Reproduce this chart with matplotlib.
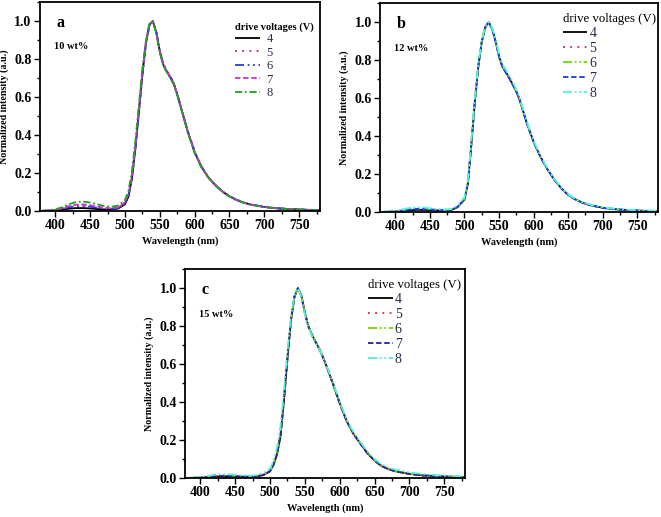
import matplotlib
matplotlib.use('Agg')
import matplotlib.pyplot as plt
from matplotlib.ticker import MultipleLocator, FormatStrFormatter

plt.rcParams['font.family'] = ['Liberation Serif', 'DejaVu Serif']

# wavelength grid (nm)
wl = [380, 400, 410, 420, 430, 440, 450, 460, 470, 480, 490, 500, 505, 510, 515,
      520, 525, 530, 535, 540, 545, 550, 555, 560, 565, 570, 575, 580, 590, 600,
      610, 620, 630, 640, 650, 660, 670, 680, 700, 720, 740, 760, 780]

voltages = ['4', '5', '6', '7', '8']

# panel a, 10 wt%
a_v4 = [0.000, 0.002, 0.006, 0.012, 0.015, 0.015, 0.013, 0.010, 0.008, 0.008, 0.012, 0.035, 0.075, 0.17, 0.33,
        0.52, 0.72, 0.88, 0.98, 1.00, 0.94, 0.84, 0.77, 0.735, 0.705, 0.67, 0.615, 0.55, 0.42, 0.31,
        0.23, 0.175, 0.135, 0.102, 0.077, 0.058, 0.044, 0.034, 0.021, 0.013, 0.009, 0.006, 0.004]
a_v5 = [0.000, 0.004, 0.012, 0.022, 0.028, 0.029, 0.025, 0.019, 0.014, 0.012, 0.016, 0.040, 0.080, 0.175, 0.335,
        0.525, 0.72, 0.88, 0.98, 1.00, 0.94, 0.845, 0.775, 0.74, 0.71, 0.675, 0.62, 0.555, 0.425, 0.315,
        0.235, 0.178, 0.137, 0.104, 0.079, 0.060, 0.046, 0.035, 0.022, 0.014, 0.010, 0.007, 0.005]
a_v6 = [0.000, 0.003, 0.010, 0.019, 0.024, 0.025, 0.022, 0.017, 0.013, 0.011, 0.015, 0.038, 0.078, 0.172, 0.33,
        0.52, 0.715, 0.875, 0.975, 1.00, 0.945, 0.845, 0.772, 0.738, 0.707, 0.672, 0.617, 0.552, 0.422, 0.312,
        0.232, 0.176, 0.136, 0.103, 0.078, 0.059, 0.045, 0.035, 0.021, 0.014, 0.009, 0.006, 0.004]
a_v7 = [0.000, 0.005, 0.014, 0.026, 0.033, 0.034, 0.030, 0.023, 0.017, 0.014, 0.019, 0.045, 0.088, 0.185, 0.345,
        0.535, 0.73, 0.885, 0.98, 1.00, 0.94, 0.84, 0.77, 0.735, 0.705, 0.67, 0.615, 0.55, 0.42, 0.31,
        0.23, 0.175, 0.135, 0.102, 0.077, 0.058, 0.044, 0.034, 0.021, 0.013, 0.009, 0.006, 0.004]
a_v8 = [0.000, 0.008, 0.020, 0.036, 0.047, 0.049, 0.044, 0.035, 0.026, 0.022, 0.028, 0.058, 0.105, 0.21, 0.37,
        0.56, 0.75, 0.895, 0.985, 1.00, 0.935, 0.835, 0.765, 0.73, 0.70, 0.665, 0.61, 0.545, 0.415, 0.305,
        0.228, 0.173, 0.133, 0.100, 0.076, 0.057, 0.043, 0.033, 0.020, 0.013, 0.009, 0.006, 0.004]

# panel b, 12 wt%
b_v4 = [0.000, 0.002, 0.005, 0.009, 0.011, 0.011, 0.010, 0.008, 0.007, 0.009, 0.025, 0.065, 0.15, 0.355, 0.58,
        0.765, 0.895, 0.972, 1.00, 0.965, 0.90, 0.82, 0.765, 0.735, 0.705, 0.67, 0.635, 0.59, 0.47, 0.37,
        0.29, 0.225, 0.17, 0.125, 0.09, 0.067, 0.05, 0.038, 0.022, 0.014, 0.009, 0.006, 0.004]
b_v5 = [0.000, 0.003, 0.007, 0.012, 0.014, 0.014, 0.012, 0.010, 0.008, 0.010, 0.026, 0.066, 0.152, 0.357, 0.582,
        0.766, 0.895, 0.972, 1.00, 0.964, 0.90, 0.82, 0.765, 0.735, 0.705, 0.67, 0.634, 0.589, 0.469, 0.369,
        0.289, 0.224, 0.17, 0.125, 0.09, 0.067, 0.05, 0.038, 0.022, 0.014, 0.009, 0.006, 0.004]
b_v6 = [0.000, 0.004, 0.009, 0.015, 0.018, 0.018, 0.015, 0.012, 0.010, 0.012, 0.028, 0.068, 0.155, 0.36, 0.585,
        0.768, 0.897, 0.973, 1.00, 0.965, 0.902, 0.823, 0.768, 0.738, 0.708, 0.673, 0.637, 0.592, 0.472, 0.372,
        0.291, 0.226, 0.171, 0.126, 0.091, 0.068, 0.051, 0.039, 0.023, 0.015, 0.010, 0.007, 0.005]
b_v7 = [0.000, 0.003, 0.008, 0.013, 0.016, 0.016, 0.014, 0.011, 0.009, 0.011, 0.027, 0.067, 0.153, 0.358, 0.583,
        0.767, 0.896, 0.973, 1.00, 0.963, 0.898, 0.818, 0.763, 0.733, 0.703, 0.668, 0.633, 0.588, 0.468, 0.368,
        0.288, 0.224, 0.169, 0.124, 0.089, 0.066, 0.049, 0.037, 0.021, 0.013, 0.009, 0.006, 0.004]
b_v8 = [0.000, 0.006, 0.013, 0.021, 0.025, 0.024, 0.020, 0.016, 0.013, 0.015, 0.033, 0.078, 0.17, 0.38, 0.60,
        0.78, 0.905, 0.976, 1.00, 0.97, 0.91, 0.832, 0.778, 0.748, 0.718, 0.683, 0.645, 0.598, 0.478, 0.376,
        0.295, 0.229, 0.174, 0.128, 0.093, 0.07, 0.053, 0.041, 0.025, 0.016, 0.011, 0.008, 0.006]

# panel c, 15 wt%
c_v4 = [0.000, 0.002, 0.004, 0.007, 0.009, 0.009, 0.008, 0.007, 0.006, 0.008, 0.015, 0.035, 0.07, 0.125, 0.22,
        0.41, 0.63, 0.83, 0.955, 1.00, 0.96, 0.87, 0.80, 0.755, 0.72, 0.685, 0.645, 0.60, 0.50, 0.395,
        0.30, 0.232, 0.18, 0.13, 0.092, 0.064, 0.047, 0.036, 0.022, 0.014, 0.010, 0.007, 0.005]
c_v5 = [0.000, 0.003, 0.006, 0.010, 0.012, 0.012, 0.011, 0.009, 0.008, 0.010, 0.017, 0.037, 0.072, 0.128, 0.225,
        0.415, 0.635, 0.832, 0.955, 1.00, 0.958, 0.868, 0.798, 0.753, 0.718, 0.683, 0.643, 0.598, 0.498, 0.393,
        0.298, 0.231, 0.179, 0.129, 0.091, 0.063, 0.046, 0.035, 0.021, 0.013, 0.009, 0.006, 0.004]
c_v6 = [0.000, 0.003, 0.006, 0.011, 0.013, 0.013, 0.012, 0.010, 0.008, 0.010, 0.017, 0.038, 0.073, 0.13, 0.228,
        0.418, 0.637, 0.833, 0.956, 1.00, 0.96, 0.872, 0.803, 0.758, 0.724, 0.689, 0.648, 0.602, 0.502, 0.397,
        0.302, 0.234, 0.181, 0.131, 0.093, 0.065, 0.048, 0.037, 0.023, 0.015, 0.011, 0.008, 0.006]
c_v7 = [0.000, 0.002, 0.005, 0.009, 0.011, 0.011, 0.010, 0.008, 0.007, 0.009, 0.016, 0.036, 0.071, 0.127, 0.222,
        0.412, 0.632, 0.831, 0.955, 1.00, 0.959, 0.869, 0.799, 0.754, 0.719, 0.684, 0.644, 0.599, 0.499, 0.394,
        0.299, 0.231, 0.179, 0.129, 0.091, 0.063, 0.046, 0.035, 0.021, 0.013, 0.009, 0.006, 0.004]
c_v8 = [0.000, 0.006, 0.011, 0.017, 0.020, 0.019, 0.017, 0.014, 0.012, 0.015, 0.025, 0.05, 0.09, 0.16, 0.27,
        0.46, 0.67, 0.85, 0.96, 1.00, 0.955, 0.865, 0.795, 0.752, 0.718, 0.684, 0.645, 0.602, 0.505, 0.402,
        0.307, 0.24, 0.188, 0.138, 0.1, 0.072, 0.055, 0.044, 0.03, 0.02, 0.015, 0.011, 0.008]

panels = [
    ('a', '10 wt%', [a_v4, a_v5, a_v6, a_v7, a_v8],
     ['black', '#c8186a', '#1f3fe0', '#cc33cc', '#22a022'],
     [(0, ()), (0, (1, 3)), (0, (5, 2, 1, 2, 1, 2)), (0, (3, 1.5)), (0, (4, 1.5, 1, 1.5))],
     [0.0605, 0.592, 0.4236, 0.404], (0.697, 0.905), True),
    ('b', '12 wt%', [b_v4, b_v5, b_v6, b_v7, b_v8],
     ['black', '#cc2266', '#66dd00', '#1a3ae8', '#55f5e0'],
     [(0, ()), (0, (1, 3)), (0, (5, 1.5, 1, 1.5, 1, 1.5)), (0, (3, 1.5)), (0, (5, 1.5, 1, 1.5, 1, 1.5))],
     [0.575, 0.590, 0.4206, 0.404], (0.658, 0.955), False),
    ('c', '15 wt%', [c_v4, c_v5, c_v6, c_v7, c_v8],
     ['black', '#ee2222', '#88cc00', '#22229a', '#55eedd'],
     [(0, ()), (0, (1, 3)), (0, (5, 1.5, 1, 1.5, 1, 1.5)), (0, (3, 1.5)), (0, (5, 1.5, 1, 1.5, 1, 1.5))],
     [0.280, 0.0754, 0.4236, 0.404], (0.655, 0.955), False),
]

fig = plt.figure(figsize=(6.61, 5.17), dpi=100)

for letter, conc, series, colors, styles, pos, legpos, boldtitle in panels:
    ax = fig.add_axes(pos)
    for i in range(len(series)):
        ax.plot(wl, series[i], color=colors[i], linestyle=styles[i], lw=1.3, label=voltages[i])
    ax.set_xlim(378, 780)
    ax.set_ylim(0, 1.1)
    ax.xaxis.set_major_locator(MultipleLocator(50))
    ax.xaxis.set_minor_locator(MultipleLocator(25))
    ax.yaxis.set_major_locator(MultipleLocator(0.2))
    ax.yaxis.set_minor_locator(MultipleLocator(0.1))
    ax.yaxis.set_major_formatter(FormatStrFormatter('%.1f'))
    ax.tick_params(which='major', direction='out', length=4, width=1, labelsize=10, pad=2)
    ax.tick_params(which='minor', direction='out', length=2, width=1)
    for lab in ax.get_xticklabels() + ax.get_yticklabels():
        lab.set_fontweight('bold')
    for sp in ax.spines.values():
        sp.set_linewidth(1.3)
    ax.set_xlabel('Wavelength (nm)', fontsize=7.5, fontweight='bold', labelpad=3)
    ax.set_ylabel('Normalized intensity (a.u.)', fontsize=7.2, fontweight='bold', labelpad=4)
    ax.text(0.06, 0.90, letter, transform=ax.transAxes, fontsize=11.5, fontweight='bold', va='center')
    ax.text(0.05, 0.785, conc, transform=ax.transAxes, fontsize=7.5, fontweight='bold', va='center')
    if boldtitle:
        leg = ax.legend(loc='upper left', bbox_to_anchor=legpos, frameon=False, title='drive voltages (V)',
                        fontsize=9, handlelength=2.0, handletextpad=0.5, labelspacing=0.12,
                        borderpad=0, borderaxespad=0, alignment='left')
        leg.get_title().set_fontweight('bold')
        leg.get_title().set_fontsize(7.5)
    else:
        leg = ax.legend(loc='upper left', bbox_to_anchor=legpos, frameon=False, title='drive voltages (V)',
                        fontsize=10, handlelength=1.75, handletextpad=0.15, labelspacing=0.15,
                        borderpad=0, borderaxespad=0, alignment='left')
        leg.get_title().set_fontsize(9.2)
    for t in leg.get_texts():
        t.set_color('#2a2a4a')

fig.savefig('out.png', dpi=100)
